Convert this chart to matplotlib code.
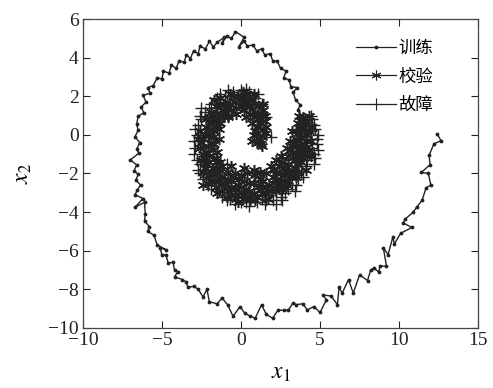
import matplotlib
matplotlib.use("Agg")
import matplotlib.pyplot as plt
from matplotlib.lines import Line2D

plt.rcParams["font.family"] = ["Liberation Serif", "Noto Sans CJK SC", "DejaVu Sans"]
plt.rcParams["mathtext.fontset"] = "stix"

INK = "#222222"

# training trajectory, inner end first, then the outer arm out to x1 ~ 12.5
train_pts = [
    (1.0, -0.2), (1.3, 0.3), (1.1, 0.9), (0.7, 1.4), (0.2, 1.8), (-0.4, 1.9),
    (-1.0, 1.6), (-1.6, 1.2), (-2.0, 0.6), (-2.3, 0.0), (-2.4, -0.7),
    (-2.3, -1.4), (-1.9, -2.0), (-1.4, -2.5), (-0.7, -2.8), (0.0, -3.0),
    (0.8, -3.0), (1.6, -2.8), (2.3, -2.4), (2.9, -1.9), (3.4, -1.3),
    (3.7, -0.6), (3.8, 0.0),
    (3.7, 0.4), (3.95, 0.7), (3.85, 0.95), (3.6, 1.3), (3.75, 1.55),
    (3.45, 1.8), (3.3, 2.2), (3.55, 2.45), (3.15, 2.5), (3.05, 2.85),
    (2.7, 2.95), (2.85, 3.3), (2.5, 3.45), (2.3, 3.8), (2.0, 3.85),
    (1.85, 4.2), (1.5, 4.15), (1.3, 4.45), (1.0, 4.35), (0.75, 4.65),
    (0.4, 4.6), (0.2, 4.85), (-0.15, 4.55), (0.2, 5.05), (-0.35, 5.35),
    (-0.6, 5.0), (-0.9, 5.1), (-1.2, 4.75), (-1.05, 5.05), (-1.5, 4.8),
    (-1.75, 4.55), (-2.0, 4.85), (-2.25, 4.45), (-2.6, 4.6), (-2.7, 4.2),
    (-3.0, 4.35), (-3.2, 3.95), (-3.45, 4.15), (-3.6, 3.75), (-3.9, 3.85),
    (-4.1, 3.45), (-4.4, 3.6), (-4.55, 3.2), (-4.9, 3.3), (-5.0, 2.9),
    (-5.3, 2.95), (-5.55, 2.55), (-5.9, 2.45), (-5.75, 2.15), (-6.2, 2.05),
    (-6.0, 1.7), (-6.3, 1.45), (-6.15, 1.15), (-6.5, 0.95), (-6.6, 0.55),
    (-6.5, 0.25), (-6.7, -0.1), (-6.4, -0.4), (-6.6, -0.75), (-6.45, -0.95),
    (-7.0, -1.3), (-6.6, -1.55), (-6.75, -1.85), (-6.5, -2.05), (-6.65, -2.35),
    (-6.35, -2.6), (-6.55, -2.85), (-6.7, -3.1), (-6.2, -3.3), (-6.7, -3.75),
    (-6.1, -3.5), (-6.05, -4.1), (-6.1, -4.45), (-5.8, -4.75), (-5.9, -5.0),
    (-5.5, -5.2), (-5.3, -5.7), (-4.75, -5.95), (-5.1, -5.85), (-5.0, -6.25),
    (-4.75, -6.2), (-4.6, -6.65), (-4.3, -6.6), (-4.2, -7.0), (-4.0, -7.1),
    (-4.2, -7.35), (-3.7, -7.5), (-3.5, -7.6), (-3.35, -7.9), (-3.0, -7.85),
    (-2.7, -8.0), (-2.4, -8.4), (-2.15, -8.0), (-2.0, -8.65), (-1.5, -8.75),
    (-1.2, -8.45), (-0.85, -8.8), (-0.5, -9.4), (-0.06, -8.9), (0.25, -9.25),
    (0.6, -9.4), (0.9, -9.5), (1.3, -8.8), (1.6, -9.3), (2.0, -9.5),
    (2.35, -9.07), (2.7, -9.1), (3.0, -9.07), (3.3, -8.7), (3.5, -8.8),
    (3.9, -8.75), (4.2, -9.07), (4.6, -8.9), (5.0, -9.2), (5.4, -8.55),
    (5.2, -8.3), (5.7, -8.35), (6.1, -8.8), (6.2, -7.9), (6.4, -8.2),
    (6.8, -7.5), (7.1, -8.2), (7.5, -7.25), (8.0, -7.55), (8.2, -7.0),
    (8.4, -6.9), (8.7, -7.1), (8.8, -6.8), (9.2, -6.8), (9.0, -5.85),
    (9.3, -6.2), (9.6, -5.3), (9.7, -5.65), (10.1, -5.1), (10.8, -4.8),
    (10.25, -4.56), (10.4, -4.35), (10.9, -4.0), (11.1, -3.75), (11.45, -3.4),
    (11.7, -2.75), (12.0, -2.6), (11.85, -2.0), (11.4, -1.95), (11.95, -1.55),
    (11.9, -1.05), (12.2, -0.47), (12.65, -0.3), (12.4, 0.05),
]

# validation samples, packed along the inner C-shaped band
valid_pts = [
    (1.0, -0.4), (1.3, -0.1), (0.8, 0.0), (1.4, 0.3), (1.0, 0.4), (1.5, 0.7),
    (1.1, 0.8), (0.7, 0.6), (1.3, 1.1), (0.9, 1.2),
    (0.5, 1.5), (0.9, 1.6), (0.3, 1.9), (0.6, 2.0), (0.0, 1.5), (-0.2, 2.0),
    (0.2, 1.3), (-0.4, 1.7), (0.1, 2.2), (-0.6, 1.3),
    (-0.9, 1.7), (-1.2, 1.3), (-0.8, 1.0), (-1.4, 1.6), (-1.1, 0.9),
    (-1.5, 1.1), (-1.7, 0.8), (-1.3, 0.6), (-1.9, 1.2), (-1.6, 0.4),
    (-2.0, 0.3), (-2.3, 0.0), (-1.8, -0.1), (-2.5, -0.4), (-2.1, -0.6),
    (-1.7, -0.5), (-2.4, -1.0), (-2.0, -1.1), (-2.6, 0.2), (-1.9, 0.6),
    (-2.2, -1.5), (-1.8, -1.7), (-2.4, -1.9), (-1.6, -1.4), (-2.0, -2.1),
    (-1.5, -2.0), (-1.7, -2.4), (-1.2, -2.2), (-2.1, -2.5), (-1.3, -1.8),
    (-1.0, -2.6), (-0.8, -2.9), (-0.6, -2.4), (-0.4, -3.1), (-0.2, -2.6),
    (0.0, -3.0), (-0.9, -3.2), (0.2, -2.4), (-0.5, -2.2), (0.1, -3.3),
    (0.5, -2.9), (0.8, -2.5), (1.0, -3.2), (1.3, -2.7), (0.6, -3.4),
    (1.5, -3.0), (1.2, -2.3), (1.8, -2.6), (0.9, -2.1), (1.7, -3.3),
    (2.0, -2.2), (2.3, -2.6), (2.5, -2.0), (2.1, -1.8), (2.7, -2.4),
    (2.4, -1.6), (2.9, -1.9), (2.6, -2.8), (3.0, -1.5), (2.2, -2.9),
    (3.2, -1.2), (3.4, -1.7), (3.6, -1.1), (3.1, -0.8), (3.8, -1.4),
    (3.5, -0.6), (3.3, -2.0), (3.9, -0.9), (3.0, -1.1), (3.7, -0.3),
    (4.0, -0.5), (3.6, 0.1), (4.2, 0.0), (3.9, 0.4), (4.3, -0.8),
    (3.8, 0.7), (4.1, 0.5), (3.5, -0.2), (4.4, -0.3), (3.7, 1.0),
    (1.2, -0.2), (0.9, 0.2), (1.2, 0.6), (1.6, 0.4), (0.8, 0.9), (1.4, 1.3),
    (1.1, 1.5), (0.6, 1.1), (1.0, 0.1), (1.5, 1.0), (0.7, -0.3), (1.25, -0.5),
    (0.4, 1.7), (0.7, 1.8), (0.1, 1.7), (-0.1, 1.8), (0.4, 2.1), (-0.3, 1.4),
    (0.0, 2.0), (-0.5, 2.0), (0.3, 1.5), (0.8, 2.1),
    (-0.7, 1.6), (-1.0, 1.2), (-1.3, 1.9), (-1.6, 1.5), (-1.2, 1.0),
    (-0.9, 1.4), (-1.8, 1.0), (-1.5, 0.7), (-2.0, 0.9), (-1.1, 1.6),
    (-1.9, 0.1), (-2.2, 0.4), (-2.4, -0.2), (-1.9, -0.4), (-2.2, -0.9),
    (-1.8, -0.8), (-2.6, -0.7), (-2.3, -1.2), (-2.1, 0.0), (-1.7, 0.2),
    (-2.0, -1.4), (-1.9, -1.9), (-2.3, -1.7), (-1.7, -2.1), (-1.4, -2.4),
    (-2.2, -2.0), (-1.5, -1.7), (-1.9, -2.4), (-1.1, -2.5), (-1.6, -2.7),
    (-0.8, -2.3), (-0.6, -2.7), (-0.3, -2.8), (-0.1, -2.3), (-0.7, -3.1),
    (-1.2, -2.9), (0.0, -2.7), (-0.3, -3.3), (0.3, -2.8), (0.2, -3.1),
    (0.5, -2.5), (0.7, -3.1), (1.1, -2.7), (1.4, -2.4), (0.9, -3.4),
    (1.3, -3.0), (1.6, -2.7), (0.4, -3.2), (1.9, -2.9), (2.0, -2.5),
    (2.2, -2.0), (2.5, -2.4), (2.8, -2.1), (2.4, -2.8), (2.7, -1.7),
    (3.1, -2.2), (2.3, -2.3), (2.9, -2.6), (2.6, -1.4), (3.2, -1.8),
    (3.4, -1.3), (3.3, -0.9), (3.6, -1.5), (3.7, -0.8), (3.9, -1.2),
    (3.4, -0.4), (3.6, -1.9), (4.0, -1.0), (3.2, -0.6), (3.8, -0.6),
    (3.8, -0.1), (4.1, -0.3), (4.0, 0.2), (3.7, 0.4), (4.2, 0.7),
    (3.6, 0.6), (4.3, 0.2), (3.9, 0.9), (4.0, -0.7), (3.5, 0.2),
    (-1.2, -1.6), (-0.8, -1.9), (-0.4, -2.0), (0.0, -2.1), (0.4, -2.0),
    (0.8, -1.8), (1.2, -1.9), (1.6, -2.0), (1.9, -1.6), (2.2, -1.3),
    (2.5, -1.1), (2.9, -0.7), (3.1, -0.3), (3.2, 0.2), (-0.6, -1.6),
    (0.2, -1.7), (-1.4, -0.2), (-1.5, -0.9), (-1.4, 0.3), (-1.6, -1.2),
    (-1.3, -1.4), (-0.8, 0.9), (-0.3, 1.1), (0.3, 0.9),
    (-2.5, -1.3), (-2.7, -0.2), (-2.2, 0.8), (-1.7, 1.8), (-0.7, 2.1),
    (1.4, 1.6), (1.6, 0.1), (1.3, -0.6), (2.6, -2.6), (3.0, -2.4),
    (3.5, -2.2), (4.1, -1.8), (4.4, -1.1), (4.5, 0.4), (4.3, 1.0),
    (1.0, -2.0), (-0.2, -3.5), (-1.5, -3.0), (-2.4, -2.6),
]

# fault samples, spread around the outside of the band
fault_pts = [
    (4.5, 0.8), (4.7, 0.3), (4.4, -0.2), (4.8, -0.5), (4.6, -1.0), (4.2, -1.3),
    (4.9, 0.0), (4.3, 0.5), (4.5, -0.7), (4.1, -1.6), (4.7, -1.2), (4.4, 1.0),
    (3.6, -2.3), (3.2, -2.6), (3.8, -1.9), (2.8, -3.0), (3.4, -2.9), (2.5, -3.2),
    (2.0, -3.4), (1.5, -3.6), (1.0, -3.5), (0.5, -3.7), (0.0, -3.5), (-0.4, -3.6),
    (1.8, -3.1), (0.8, -3.1), (2.2, -3.6), (1.3, -3.3), (-0.2, -3.2),
    (-0.9, -3.4), (-1.4, -2.9), (-1.9, -2.8), (-2.4, -2.3), (-2.7, -1.8),
    (-2.2, -2.2),
    (-2.8, -1.3), (-2.9, -0.7), (-2.8, 0.0), (-2.7, 0.5), (-2.6, -1.5),
    (-3.0, -0.3), (-2.5, 0.8),
    (-2.3, 1.2), (-1.9, 1.6), (-2.5, 1.4), (-1.5, 1.9), (-1.0, 2.0),
    (-0.5, 2.2), (0.0, 2.3), (0.5, 2.2), (0.9, 1.9), (1.3, 1.6),
    (1.9, -0.1), (1.6, 0.9), (-0.9, -1.5), (2.6, -1.2),
    (4.6, 0.5), (4.8, -0.2), (4.3, -1.0), (4.9, -0.8), (4.4, 0.2), (4.6, -1.5),
    (3.9, -2.2), (3.5, -2.6), (3.0, -2.8), (2.6, -3.4), (1.6, -3.4), (0.3, -3.5),
    (-0.7, -3.3), (-1.2, -3.2), (-2.1, -2.6), (-2.6, -2.0), (-3.0, -1.0),
    (-2.9, 0.3), (-2.6, 1.0), (-2.0, 1.4), (-1.3, 2.1), (-0.8, 2.3), (0.3, 2.4),
    (1.1, 2.1),
]

train_x, train_y = zip(*train_pts)
valid_x, valid_y = zip(*valid_pts)
fault_x, fault_y = zip(*fault_pts)

legend_labels = ["训练", "校验", "故障"]

fig = plt.figure(figsize=(4.93, 3.88), dpi=100)
ax = fig.add_axes([0.168, 0.155, 0.802, 0.796])

ax.plot(train_x, train_y, color=INK, lw=1.0, marker=".", ms=3.5)
ax.plot(valid_x, valid_y, ls="none", color=INK, marker=(6, 2, 0), ms=8, mew=1.1)
ax.plot(fault_x, fault_y, ls="none", color=INK, marker="+", ms=9, mew=1.0)

ax.set_xlim(-10, 15)
ax.set_ylim(-10, 6)
ax.set_xticks([-10, -5, 0, 5, 10, 15])
ax.set_yticks([-10, -8, -6, -4, -2, 0, 2, 4, 6])
ax.tick_params(direction="in", top=True, right=True, length=5, width=0.8,
               labelsize=14, colors="#222222", pad=3)
for s in ax.spines.values():
    s.set_color("#444444")
    s.set_linewidth(0.9)

ax.set_xlabel("$x_1$", fontsize=17, labelpad=10)
ax.set_ylabel("$x_2$", fontsize=17, labelpad=10)

handles = [
    Line2D([], [], color=INK, lw=0.9, marker=".", ms=3.5),
    Line2D([], [], color=INK, lw=0.9, marker=(6, 2, 0), ms=7, mew=0.8),
    Line2D([], [], color=INK, lw=0.9, marker="+", ms=9, mew=0.8),
]
ax.legend(handles, legend_labels, loc="upper left", bbox_to_anchor=(0.69, 0.935),
          frameon=False, handlelength=2.3, handletextpad=0.15,
          labelspacing=0.6, borderpad=0, borderaxespad=0,
          prop={"family": ["Noto Sans CJK SC"], "size": 12.5})

fig.savefig("out.png", dpi=100)
